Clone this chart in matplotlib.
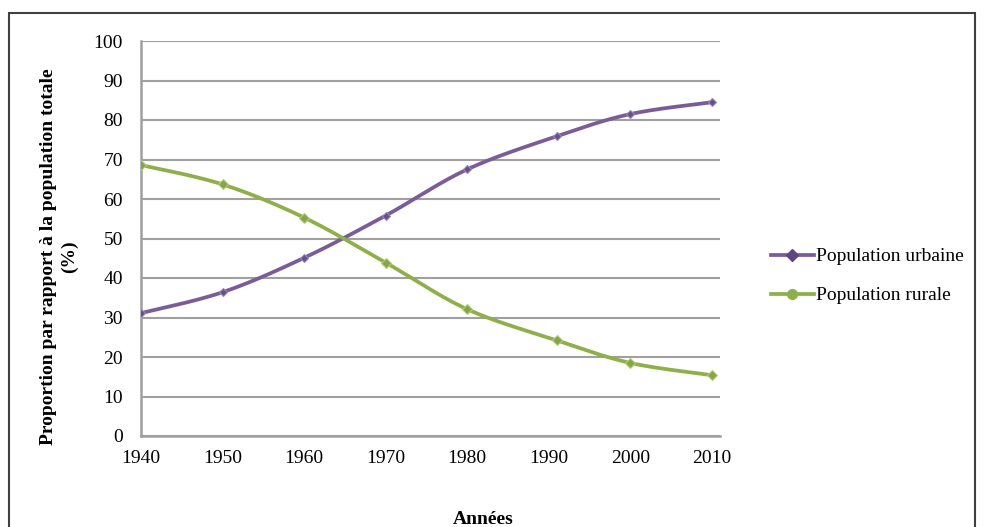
import numpy as np
import matplotlib
matplotlib.use("Agg")
import matplotlib.pyplot as plt
from matplotlib.patches import Rectangle
from matplotlib.lines import Line2D

years = [1940, 1950, 1960, 1970, 1980, 1991, 2000, 2010]
urbaine = [31.1, 36.4, 45.1, 55.8, 67.5, 75.9, 81.5, 84.5]
rurale = [68.6, 63.7, 55.3, 43.9, 32.1, 24.2, 18.5, 15.4]
xticks = [1940, 1950, 1960, 1970, 1980, 1990, 2000, 2010]
yticks = [0, 10, 20, 30, 40, 50, 60, 70, 80, 90, 100]
labels = ["Population urbaine", "Population rurale"]

plt.rcParams['font.family'] = ['Liberation Serif', 'DejaVu Serif']

W, H = 984, 527
fig = plt.figure(figsize=(W / 100, H / 100), dpi=100)
fig.patch.set_facecolor('white')

# outer frame
fig.patches.append(Rectangle((9 / W, -0.05), (975 - 9) / W, 1 - 13 / H + 0.05,
                             transform=fig.transFigure, fill=False,
                             edgecolor='#404040', linewidth=1.5))

ax = fig.add_axes([141 / W, 1 - 436 / H, (720 - 141) / W, (436 - 41) / H])


def smooth(xs, ys, n=40):
    # Excel-style Bezier smoothing (Catmull-Rom like)
    x = np.asarray(xs, float)
    y = np.asarray(ys, float)
    px = np.concatenate([[x[0]], x, [x[-1]]])
    py = np.concatenate([[y[0]], y, [y[-1]]])
    ox, oy = [], []
    t = np.linspace(0, 1, n)
    for i in range(1, len(px) - 2):
        p0 = np.array([px[i], py[i]])
        p3 = np.array([px[i + 1], py[i + 1]])
        p1 = p0 + (np.array([px[i + 1], py[i + 1]]) - np.array([px[i - 1], py[i - 1]])) / 6
        p2 = p3 - (np.array([px[i + 2], py[i + 2]]) - np.array([px[i], py[i]])) / 6
        b = ((1 - t) ** 3)[:, None] * p0 + (3 * (1 - t) ** 2 * t)[:, None] * p1 + \
            (3 * (1 - t) * t ** 2)[:, None] * p2 + (t ** 3)[:, None] * p3
        ox.extend(b[:, 0])
        oy.extend(b[:, 1])
    return np.array(ox), np.array(oy)


c_urb = '#7a5c99'
c_rur = '#8faf4a'
LW = 2.7

sx, sy = smooth(years, urbaine)
ax.plot(sx, sy, color=c_urb, lw=LW, solid_capstyle='round', zorder=3)
ax.plot(years, urbaine, linestyle='none', marker='D', markersize=4.5,
        color='#65508a', markeredgecolor='#9a88b6', markeredgewidth=0.8, zorder=4)

sx, sy = smooth(years, rurale)
ax.plot(sx, sy, color=c_rur, lw=LW, solid_capstyle='round', zorder=3)
ax.plot(years, rurale, linestyle='none', marker='D', markersize=5,
        color='#86a544', markeredgecolor='#b2cc80', markeredgewidth=0.8, zorder=4)

ax.set_xlim(1940, 2011)
ax.set_ylim(0, 100)
ax.set_xticks(xticks)
ax.set_yticks(yticks)
ax.tick_params(axis='both', length=0, labelsize=14, colors='black')
ax.tick_params(axis='y', pad=13)
ax.tick_params(axis='x', pad=10)
ax.grid(axis='y', color='#a0a0a0', linewidth=1.5, zorder=1)
ax.set_axisbelow(True)
for s in ['top', 'right']:
    ax.spines[s].set_visible(False)
for s in ['left', 'bottom']:
    ax.spines[s].set_color('#a0a0a0')
    ax.spines[s].set_linewidth(1.8)

fig.text(59 / W, 1 - 257 / H, "Proportion par rapport à la population totale\n(%)",
         rotation=90, ha='center', va='center', fontsize=14, fontweight='bold',
         linespacing=1.25)
fig.text(483 / W, 1 - 519 / H, "Années", ha='center', va='center',
         fontsize=14, fontweight='bold')

handles = [Line2D([], [], color=c_urb, lw=LW, marker='D', markersize=6,
                  markerfacecolor='#5e4680', markeredgecolor='#5e4680'),
           Line2D([], [], color=c_rur, lw=LW, marker='o', markersize=7,
                  markerfacecolor=c_rur, markeredgecolor=c_rur)]
fig.legend(handles, labels, loc='center left', bbox_to_anchor=(771 / W, 1 - 276 / H),
           frameon=False, fontsize=14, handlelength=2.2, handletextpad=0.1,
           labelspacing=1.1, borderpad=0, borderaxespad=0)

fig.savefig('out.png', dpi=100, facecolor='white')
